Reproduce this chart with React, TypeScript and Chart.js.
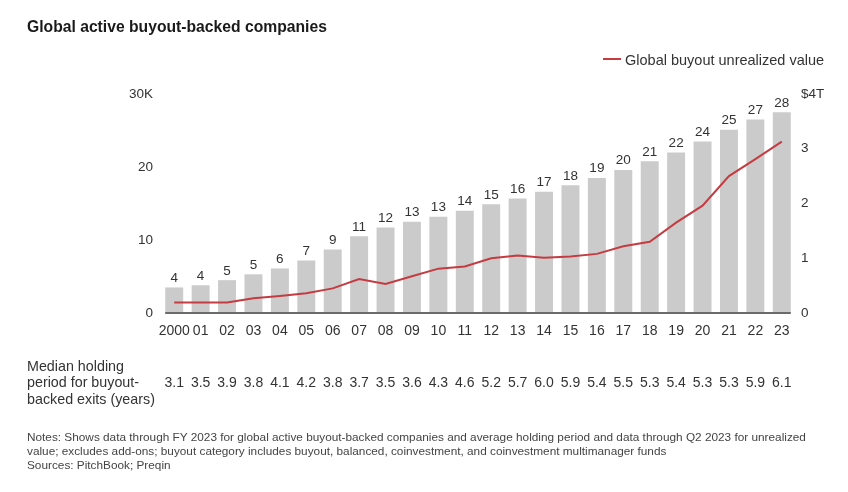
import React, { useEffect, useRef } from 'react';
import { Chart, registerables } from 'chart.js';

Chart.register(...registerables);

const FONT = '"Liberation Sans", Arial, Helvetica, sans-serif';

const years = ['2000', '01', '02', '03', '04', '05', '06', '07', '08', '09', '10', '11', '12', '13', '14', '15', '16', '17', '18', '19', '20', '21', '22', '23'];
// Global active buyout-backed companies (thousands)
const companiesK = [3.5, 3.8, 4.5, 5.3, 6.1, 7.2, 8.7, 10.5, 11.7, 12.5, 13.2, 14.0, 14.9, 15.7, 16.6, 17.5, 18.5, 19.6, 20.8, 22.0, 23.5, 25.1, 26.5, 27.5];
// Global buyout unrealized value ($T)
const unrealizedT = [0.19, 0.19, 0.19, 0.27, 0.31, 0.36, 0.45, 0.62, 0.53, 0.67, 0.81, 0.85, 1.0, 1.05, 1.01, 1.03, 1.08, 1.22, 1.3, 1.65, 1.96, 2.5, 2.81, 3.13];
// Median holding period for buyout-backed exits (years)
const holdingYears = [3.1, 3.5, 3.9, 3.8, 4.1, 4.2, 3.8, 3.7, 3.5, 3.6, 4.3, 4.6, 5.2, 5.7, 6.0, 5.9, 5.4, 5.5, 5.3, 5.4, 5.3, 5.3, 5.9, 6.1];

const leftTickLabels: Record<number, string> = { 0: '0', 10: '10', 20: '20', 30: '30K' };
const rightTickLabels: Record<number, string> = { 0: '0', 1: '1', 2: '2', 3: '3', 4: '$4T' };

const BAR_COLOR = '#cbcbcb';
const LINE_COLOR = '#c43c42';
const TEXT_COLOR = '#333333';

const overlayPlugin = {
  id: 'overlayText',
  afterDatasetsDraw(chart: any) {
    const ctx = chart.ctx;
    const meta = chart.getDatasetMeta(1);
    const xS = chart.scales.x;
    const yS = chart.scales.y;
    ctx.save();
    const first = meta.data[0];
    const last = meta.data[meta.data.length - 1];
    const y0 = yS.getPixelForValue(0);
    ctx.strokeStyle = '#6b6b6b';
    ctx.lineWidth = 2;
    ctx.beginPath();
    ctx.moveTo(first.x - first.width / 2, y0);
    ctx.lineTo(last.x + last.width / 2, y0);
    ctx.stroke();

    ctx.fillStyle = TEXT_COLOR;
    ctx.textAlign = 'center';
    ctx.textBaseline = 'alphabetic';
    ctx.font = `13.5px ${FONT}`;
    meta.data.forEach((bar: any, i: number) => {
      ctx.fillText(String(Math.round(companiesK[i])), bar.x, bar.y - 5.5);
    });
    ctx.font = `14px ${FONT}`;
    holdingYears.forEach((v, i) => {
      ctx.fillText(v.toFixed(1), xS.getPixelForValue(i), 387);
    });
    ctx.restore();
  },
};

export default function App() {
  const ref = useRef<HTMLCanvasElement>(null);
  useEffect(() => {
    const chart = new Chart(ref.current as HTMLCanvasElement, {
      type: 'bar',
      data: {
        labels: years,
        datasets: [
          {
            type: 'line',
            label: 'Global buyout unrealized value',
            data: unrealizedT,
            yAxisID: 'y1',
            borderColor: LINE_COLOR,
            borderWidth: 2,
            pointRadius: 0,
            tension: 0,
            order: 0,
          } as any,
          {
            type: 'bar',
            label: 'Global active buyout-backed companies',
            data: companiesK,
            yAxisID: 'y',
            backgroundColor: BAR_COLOR,
            categoryPercentage: 1,
            barPercentage: 0.68,
            order: 1,
          },
        ],
      },
      options: {
        animation: false,
        responsive: false,
        maintainAspectRatio: false,
        layout: { padding: { top: 94, left: 0, right: 0, bottom: 0 } },
        plugins: {
          legend: { display: false },
          title: { display: false },
          tooltip: { enabled: false },
        },
        scales: {
          x: {
            grid: { display: false, drawTicks: false },
            border: { display: false },
            ticks: {
              autoSkip: false,
              maxRotation: 0,
              minRotation: 0,
              padding: 10,
              color: TEXT_COLOR,
              font: { family: FONT, size: 14 },
            },
            afterFit: (s: any) => {
              s.height = 492 - 313;
            },
          },
          y: {
            position: 'left',
            min: 0,
            max: 30,
            grid: { display: false, drawTicks: false },
            border: { display: false },
            ticks: {
              stepSize: 10,
              padding: 8,
              color: TEXT_COLOR,
              font: { family: FONT, size: 13.5 },
              callback: (v: any) => leftTickLabels[v as number] ?? String(v),
            },
            afterFit: (s: any) => {
              s.width = 161;
            },
          },
          y1: {
            position: 'right',
            min: 0,
            max: 4,
            grid: { display: false, drawTicks: false },
            border: { display: false },
            ticks: {
              stepSize: 1,
              padding: 6,
              color: TEXT_COLOR,
              font: { family: FONT, size: 13.5 },
              callback: (v: any) => rightTickLabels[v as number] ?? String(v),
            },
            afterFit: (s: any) => {
              s.width = 53;
            },
          },
        },
      } as any,
      plugins: [overlayPlugin],
    });
    return () => chart.destroy();
  }, []);

  return (
    <div
      style={{
        position: 'fixed',
        left: 0,
        top: 0,
        width: 848,
        height: 492,
        background: '#fff',
        fontFamily: FONT,
        overflow: 'hidden',
        color: TEXT_COLOR,
      }}
    >
      <canvas ref={ref} width={848} height={492} style={{ position: 'absolute', left: 0, top: 0 }} />
      <div
        style={{
          position: 'absolute',
          left: 27,
          top: 18,
          fontSize: 15.7,
          lineHeight: '18.84px',
          fontWeight: 'bold',
          color: '#1a1a1a',
          whiteSpace: 'nowrap',
        }}
      >
        Global active buyout-backed companies
      </div>
      <div style={{ position: 'absolute', left: 603, top: 58, width: 18, height: 2, background: LINE_COLOR }} />
      <div
        style={{
          position: 'absolute',
          left: 625,
          top: 52.3,
          fontSize: 14.5,
          lineHeight: '17.4px',
          whiteSpace: 'nowrap',
          color: TEXT_COLOR,
        }}
      >
        Global buyout unrealized value
      </div>
      <div
        style={{
          position: 'absolute',
          left: 27,
          top: 357.5,
          fontSize: 14.3,
          lineHeight: '16.5px',
          whiteSpace: 'nowrap',
          color: TEXT_COLOR,
        }}
      >
        Median holding
        <br />
        period for buyout-
        <br />
        backed exits (years)
      </div>
      <div
        style={{
          position: 'absolute',
          left: 27,
          top: 429.8,
          fontSize: 11.8,
          lineHeight: '14px',
          whiteSpace: 'nowrap',
          color: '#444',
        }}
      >
        Notes: Shows data through FY 2023 for global active buyout-backed companies and average holding period and data through Q2 2023 for unrealized
        <br />
        value; excludes add-ons; buyout category includes buyout, balanced, coinvestment, and coinvestment multimanager funds
        <br />
        Sources: PitchBook; Preqin
      </div>
    </div>
  );
}
